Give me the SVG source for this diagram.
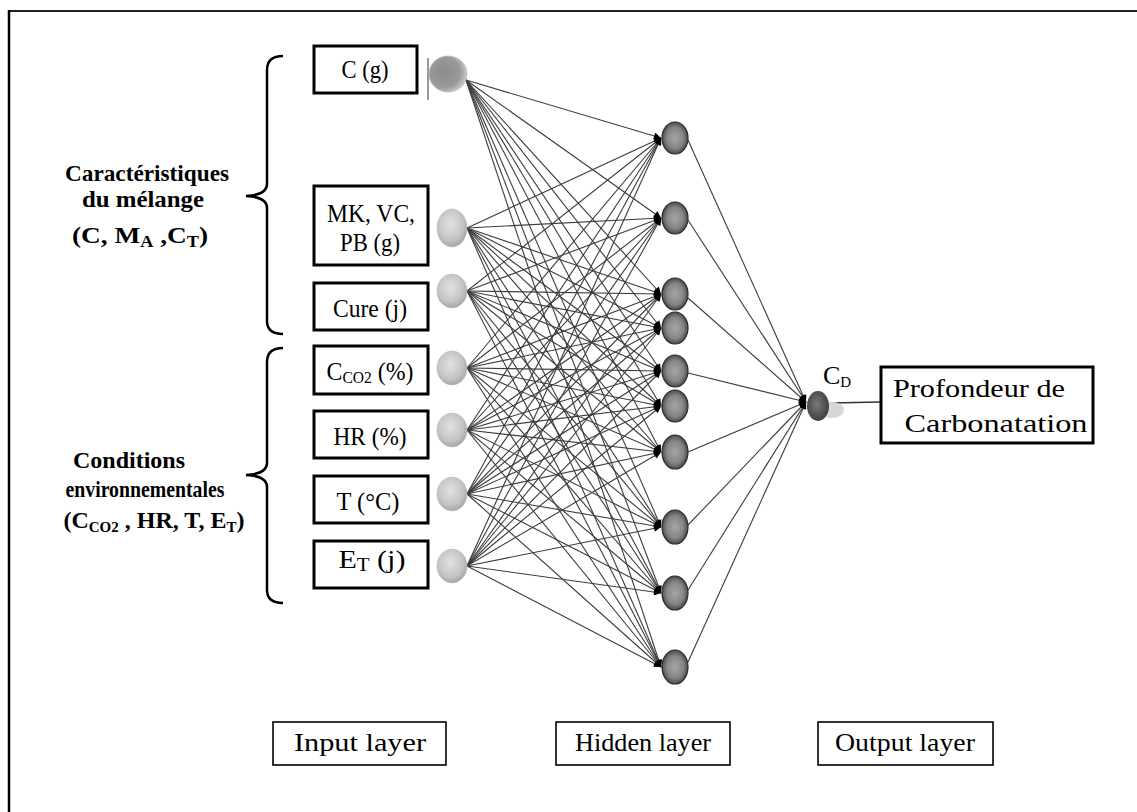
<svg xmlns="http://www.w3.org/2000/svg" width="1137" height="812" viewBox="0 0 1137 812">
<defs>
<style>
.box{fill:#fff;stroke:#000;stroke-width:3}
.lbox{fill:#fff;stroke:#000;stroke-width:1.6}
.t{font-family:"Liberation Serif","Times New Roman",serif;font-size:26px;fill:#000;text-anchor:middle}
.b{font-family:"Liberation Serif","Times New Roman",serif;font-size:24px;font-weight:bold;fill:#000;text-anchor:middle}
.brace{fill:none;stroke:#000;stroke-width:2.5}
.c line{stroke:#3c3c3c;stroke-width:1.1;marker-end:url(#ah)}
.inode{fill:url(#gin);stroke:#bbb;stroke-width:0.6}
.hnode{fill:url(#ghid);stroke:#2a2a2a;stroke-width:1.2}
</style>
<marker id="ah" viewBox="0 0 10 10" refX="10" refY="5" markerWidth="8" markerHeight="7" markerUnits="userSpaceOnUse" orient="auto">
<path d="M0,0 L10,5 L0,10 z" fill="#000"/>
</marker>
<radialGradient id="gin" cx="0.45" cy="0.4" r="0.6">
<stop offset="0" stop-color="#e2e2e2"/>
<stop offset="0.7" stop-color="#c4c4c4"/>
<stop offset="1" stop-color="#a6a6a6"/>
</radialGradient>
<radialGradient id="gc" cx="0.4" cy="0.45" r="0.6">
<stop offset="0" stop-color="#8a8a8a"/>
<stop offset="0.7" stop-color="#9a9a9a"/>
<stop offset="1" stop-color="#c8c8c8"/>
</radialGradient>
<radialGradient id="ghid" cx="0.5" cy="0.5" r="0.55">
<stop offset="0" stop-color="#a6a6a6"/>
<stop offset="0.6" stop-color="#858585"/>
<stop offset="1" stop-color="#3a3a3a"/>
</radialGradient>
<radialGradient id="gout" cx="0.45" cy="0.45" r="0.6">
<stop offset="0" stop-color="#7a7a7a"/>
<stop offset="1" stop-color="#3c3c3c"/>
</radialGradient>
</defs>
<rect width="1137" height="812" fill="#fff"/>
<g id="frame">
<line x1="9" y1="11" x2="1137" y2="11" stroke="#222" stroke-width="2"/>
<line x1="9" y1="10" x2="9" y2="812" stroke="#000" stroke-width="2.5"/>
</g>
<g id="connectors" class="c">
<line x1="466" y1="80" x2="661" y2="138"/><line x1="466" y1="80" x2="661" y2="218"/><line x1="466" y1="80" x2="661" y2="294"/><line x1="466" y1="80" x2="661" y2="328"/><line x1="466" y1="80" x2="661" y2="371"/><line x1="466" y1="80" x2="661" y2="406"/><line x1="466" y1="80" x2="661" y2="452"/><line x1="466" y1="80" x2="661" y2="527"/><line x1="466" y1="80" x2="661" y2="593"/><line x1="466" y1="80" x2="661" y2="667"/>
<line x1="467" y1="228" x2="661" y2="138"/><line x1="467" y1="228" x2="661" y2="218"/><line x1="467" y1="228" x2="661" y2="294"/><line x1="467" y1="228" x2="661" y2="328"/><line x1="467" y1="228" x2="661" y2="371"/><line x1="467" y1="228" x2="661" y2="406"/><line x1="467" y1="228" x2="661" y2="452"/><line x1="467" y1="228" x2="661" y2="527"/><line x1="467" y1="228" x2="661" y2="593"/><line x1="467" y1="228" x2="661" y2="667"/>
<line x1="467" y1="291" x2="661" y2="138"/><line x1="467" y1="291" x2="661" y2="218"/><line x1="467" y1="291" x2="661" y2="294"/><line x1="467" y1="291" x2="661" y2="328"/><line x1="467" y1="291" x2="661" y2="371"/><line x1="467" y1="291" x2="661" y2="406"/><line x1="467" y1="291" x2="661" y2="452"/><line x1="467" y1="291" x2="661" y2="527"/><line x1="467" y1="291" x2="661" y2="593"/><line x1="467" y1="291" x2="661" y2="667"/>
<line x1="467" y1="368" x2="661" y2="138"/><line x1="467" y1="368" x2="661" y2="218"/><line x1="467" y1="368" x2="661" y2="294"/><line x1="467" y1="368" x2="661" y2="328"/><line x1="467" y1="368" x2="661" y2="371"/><line x1="467" y1="368" x2="661" y2="406"/><line x1="467" y1="368" x2="661" y2="452"/><line x1="467" y1="368" x2="661" y2="527"/><line x1="467" y1="368" x2="661" y2="593"/><line x1="467" y1="368" x2="661" y2="667"/>
<line x1="467" y1="430" x2="661" y2="138"/><line x1="467" y1="430" x2="661" y2="218"/><line x1="467" y1="430" x2="661" y2="294"/><line x1="467" y1="430" x2="661" y2="328"/><line x1="467" y1="430" x2="661" y2="371"/><line x1="467" y1="430" x2="661" y2="406"/><line x1="467" y1="430" x2="661" y2="452"/><line x1="467" y1="430" x2="661" y2="527"/><line x1="467" y1="430" x2="661" y2="593"/><line x1="467" y1="430" x2="661" y2="667"/>
<line x1="467" y1="494" x2="661" y2="138"/><line x1="467" y1="494" x2="661" y2="218"/><line x1="467" y1="494" x2="661" y2="294"/><line x1="467" y1="494" x2="661" y2="328"/><line x1="467" y1="494" x2="661" y2="371"/><line x1="467" y1="494" x2="661" y2="406"/><line x1="467" y1="494" x2="661" y2="452"/><line x1="467" y1="494" x2="661" y2="527"/><line x1="467" y1="494" x2="661" y2="593"/><line x1="467" y1="494" x2="661" y2="667"/>
<line x1="467" y1="566" x2="661" y2="138"/><line x1="467" y1="566" x2="661" y2="218"/><line x1="467" y1="566" x2="661" y2="294"/><line x1="467" y1="566" x2="661" y2="328"/><line x1="467" y1="566" x2="661" y2="371"/><line x1="467" y1="566" x2="661" y2="406"/><line x1="467" y1="566" x2="661" y2="452"/><line x1="467" y1="566" x2="661" y2="527"/><line x1="467" y1="566" x2="661" y2="593"/><line x1="467" y1="566" x2="661" y2="667"/>
<line x1="688" y1="140" x2="806" y2="402"/><line x1="688" y1="220" x2="806" y2="402"/><line x1="688" y1="298" x2="806" y2="402"/><line x1="688" y1="373" x2="806" y2="402"/><line x1="688" y1="452" x2="806" y2="402"/><line x1="688" y1="525" x2="806" y2="402"/><line x1="688" y1="590" x2="806" y2="402"/><line x1="688" y1="662" x2="806" y2="402"/>
<line x1="830" y1="403" x2="881" y2="402" style="marker-end:none;stroke:#333;stroke-width:1.5"/>
</g>
<g id="group-labels">
<path class="brace" d="M283,56 Q267,56 267,70 L267,184 Q267,195 246,196 Q267,197 267,208 L267,321 Q267,334 283,334"/>
<text class="b" x="147" y="181" textLength="164" lengthAdjust="spacingAndGlyphs">Caractéristiques</text>
<text class="b" x="143" y="207" textLength="122" lengthAdjust="spacingAndGlyphs">du mélange</text>
<text class="b" x="140" y="243" textLength="136" lengthAdjust="spacingAndGlyphs">(C, M<tspan font-size="16" dy="4">A</tspan><tspan dy="-4"> ,C</tspan><tspan font-size="16" dy="4">T</tspan><tspan dy="-4">)</tspan></text>
<path class="brace" d="M283,348 Q267,348 267,362 L267,463 Q267,474 246,475 Q267,476 267,487 L267,590 Q267,603 283,603"/>
<text class="b" x="129" y="468" textLength="112" lengthAdjust="spacingAndGlyphs">Conditions</text>
<text class="b" x="145" y="497" textLength="159" lengthAdjust="spacingAndGlyphs">environnementales</text>
<text class="b" x="154" y="528" font-size="23">(C<tspan font-size="15" dy="4">CO2</tspan><tspan dy="-4"> , HR, T, E</tspan><tspan font-size="15" dy="4">T</tspan><tspan dy="-4">)</tspan></text>
</g>
<g id="in-c">
<rect class="box" x="314" y="46" width="103" height="47"/>
<text class="t" x="365" y="78" textLength="47" lengthAdjust="spacingAndGlyphs">C (g)</text>
<line x1="428" y1="58" x2="428" y2="100" stroke="#333" stroke-width="1"/>
<ellipse cx="448" cy="74" rx="19" ry="18" fill="url(#gc)" stroke="#bbb" stroke-width="0.8"/>
</g>
<g id="in-mk">
<rect class="box" x="314" y="186" width="114" height="79"/>
<text class="t" x="371" y="222" textLength="88" lengthAdjust="spacingAndGlyphs">MK, VC,</text>
<text class="t" x="370" y="251" textLength="60" lengthAdjust="spacingAndGlyphs">PB (g)</text>
<ellipse class="inode" cx="452" cy="228" rx="15" ry="19"/>
</g>
<g id="in-cure">
<rect class="box" x="314" y="283" width="114" height="47"/>
<text class="t" x="370" y="317" textLength="74" lengthAdjust="spacingAndGlyphs">Cure (j)</text>
<ellipse class="inode" cx="452" cy="291" rx="15" ry="17"/>
</g>
<g id="in-co2">
<rect class="box" x="314" y="346" width="114" height="48"/>
<text class="t" x="370" y="380" textLength="87" lengthAdjust="spacingAndGlyphs">C<tspan font-size="17" dy="3">CO2</tspan><tspan dy="-3"> (%)</tspan></text>
<ellipse class="inode" cx="452" cy="368" rx="15" ry="17"/>
</g>
<g id="in-hr">
<rect class="box" x="314" y="411" width="114" height="47"/>
<text class="t" x="370" y="445" textLength="73" lengthAdjust="spacingAndGlyphs">HR (%)</text>
<ellipse class="inode" cx="452" cy="430" rx="15" ry="17"/>
</g>
<g id="in-t">
<rect class="box" x="314" y="476" width="114" height="47"/>
<text class="t" x="368" y="510" textLength="63" lengthAdjust="spacingAndGlyphs">T (°C)</text>
<ellipse class="inode" cx="452" cy="494" rx="15" ry="17"/>
</g>
<g id="in-et">
<rect class="box" x="314" y="541" width="114" height="47"/>
<text class="t" x="372" y="568" textLength="67" lengthAdjust="spacingAndGlyphs">E<tspan font-size="18" dy="3">T</tspan><tspan dy="-3">  (j)</tspan></text>
<ellipse class="inode" cx="452" cy="566" rx="15" ry="17"/>
</g>
<g id="hidden">
<ellipse class="hnode" cx="675" cy="138" rx="13" ry="16"/>
<ellipse class="hnode" cx="675" cy="218" rx="13" ry="16"/>
<ellipse class="hnode" cx="675" cy="294" rx="13" ry="16"/>
<ellipse class="hnode" cx="675" cy="328" rx="13" ry="16"/>
<ellipse class="hnode" cx="675" cy="371" rx="13" ry="16"/>
<ellipse class="hnode" cx="675" cy="406" rx="13" ry="16"/>
<ellipse class="hnode" cx="675" cy="452" rx="13" ry="17"/>
<ellipse class="hnode" cx="675" cy="527" rx="13" ry="17"/>
<ellipse class="hnode" cx="675" cy="593" rx="13" ry="17"/>
<ellipse class="hnode" cx="675" cy="667" rx="13" ry="17"/>
</g>
<g id="output">
<ellipse cx="832" cy="410" rx="12" ry="8" fill="#d6d6d6"/>
<ellipse cx="818" cy="406" rx="11" ry="15" fill="url(#gout)"/>
<text class="t" x="837" y="384" font-size="22">C<tspan font-size="15" dy="3">D</tspan></text>
<rect class="box" x="881" y="367" width="212" height="76"/>
<text class="t" x="979" y="397" font-size="30" textLength="172" lengthAdjust="spacingAndGlyphs">Profondeur de</text>
<text class="t" x="996" y="432" font-size="30" textLength="183" lengthAdjust="spacingAndGlyphs">Carbonatation</text>
</g>
<g id="layer-labels">
<rect class="lbox" x="273" y="722" width="173" height="43"/>
<text class="t" x="360" y="751" font-size="25" textLength="132" lengthAdjust="spacingAndGlyphs">Input layer</text>
<rect class="lbox" x="556" y="722" width="174" height="43"/>
<text class="t" x="643" y="751" font-size="25" textLength="136" lengthAdjust="spacingAndGlyphs">Hidden layer</text>
<rect class="lbox" x="818" y="722" width="175" height="43"/>
<text class="t" x="905" y="751" font-size="25" textLength="140" lengthAdjust="spacingAndGlyphs">Output layer</text>
</g>
</svg>
